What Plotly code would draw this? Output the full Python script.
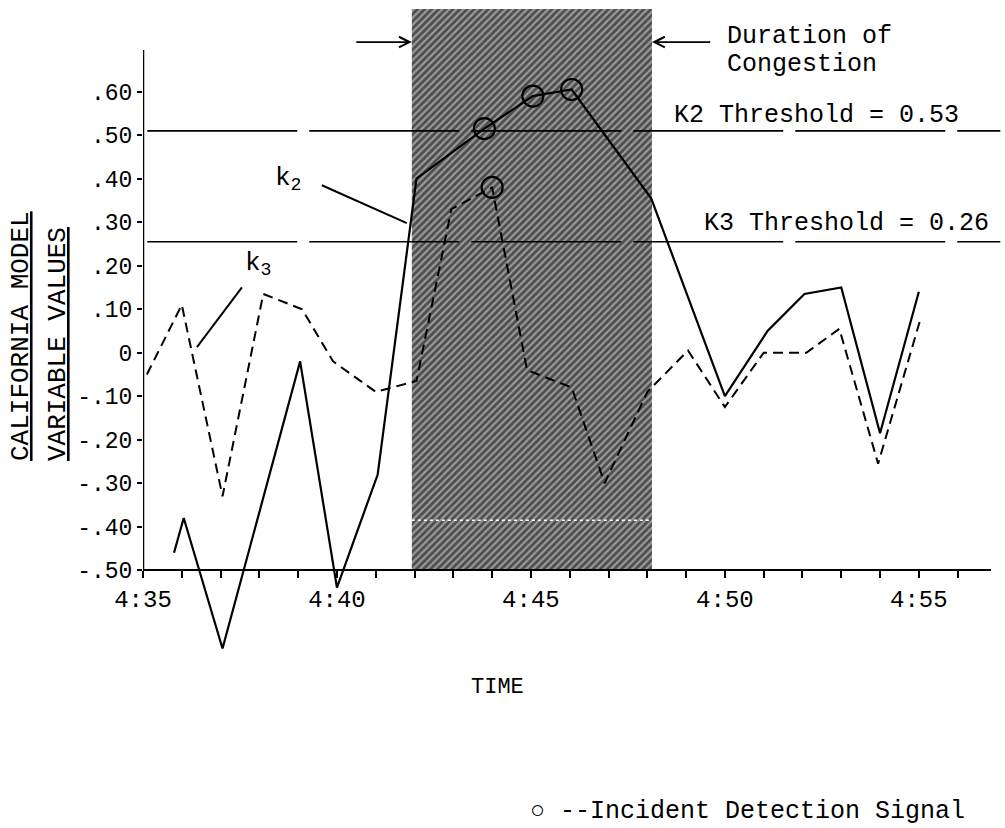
import plotly.graph_objects as go

# ---------------- data (time in minutes after 4:35) ----------------
k2_minutes = [0.8, 1.05, 2.05, 4.05, 5.0, 6.05, 7.05, 8.8, 10.05, 11.05, 13.1, 15.0, 16.1, 17.05, 18.0, 19.0, 20.0]
k2_values = [-0.46, -0.38, -0.68, -0.02, -0.54, -0.28, 0.40, 0.515, 0.59, 0.605, 0.355, -0.10, 0.05, 0.135, 0.15, -0.185, 0.14]

k3_minutes = [0.1, 1.0, 2.05, 3.1, 4.1, 4.9, 6.0, 7.05, 7.95, 9.0, 9.9, 11.05, 11.9, 13.0, 14.05, 15.0, 16.0, 17.1, 17.95, 18.95, 20.05]
k3_values = [-0.05, 0.11, -0.33, 0.135, 0.10, -0.02, -0.09, -0.065, 0.33, 0.38, -0.04, -0.08, -0.30, -0.09, 0.005, -0.125, 0.0, 0.0, 0.055, -0.255, 0.08]

k2_signal_idx = [7, 8, 9]
k3_signal_idx = [9]

k2_threshold = 0.51   # drawn position of "K2 Threshold = 0.53"
k3_threshold = 0.255  # drawn position of "K3 Threshold = 0.26"

congestion_start = 6.93
congestion_end = 13.12

major_ticks = [0, 5, 10, 15, 20]
major_tick_text = ["4:35", "4:40", "4:45", "4:50", "4:55"]
y_tick_vals = [-0.5, -0.4, -0.3, -0.2, -0.1, 0.0, 0.1, 0.2, 0.3, 0.4, 0.5, 0.6]
y_tick_text = ["-.50", "-.40", "-.30", "-.20", "-.10", "0", ".10", ".20", ".30", ".40", ".50", ".60"]

# ---------------- figure ----------------
FONT = "Liberation Mono, DejaVu Sans Mono, monospace"
Y_MIN, Y_MAX = -0.7294, 0.7924
X_MIN, X_MAX = 0, 21.86
AXIS_Y = -0.5
SHADE_TOP = 0.79
ARROW_Y = 0.714

fig = go.Figure()

# congestion shading (hatched)
fig.add_trace(go.Scatter(
    x=[congestion_start, congestion_end, congestion_end, congestion_start, congestion_start],
    y=[AXIS_Y, AXIS_Y, SHADE_TOP, SHADE_TOP, AXIS_Y],
    mode="lines", fill="toself", line=dict(width=0),
    fillcolor="#9a9a9a",
    fillpattern=dict(shape="/", fgcolor="#000000", bgcolor="#9a9a9a", size=5, solidity=0.55),
    hoverinfo="skip", showlegend=False))

fig.add_trace(go.Scatter(x=k2_minutes, y=k2_values, mode="lines",
                         line=dict(color="black", width=2.2), showlegend=False))
fig.add_trace(go.Scatter(x=k3_minutes, y=k3_values, mode="lines",
                         line=dict(color="black", width=2, dash="10px,6px"), showlegend=False))

sig_x = [k2_minutes[i] for i in k2_signal_idx] + [k3_minutes[i] for i in k3_signal_idx]
sig_y = [k2_values[i] for i in k2_signal_idx] + [k3_values[i] for i in k3_signal_idx]
fig.add_trace(go.Scatter(x=sig_x, y=sig_y, mode="markers",
                         marker=dict(symbol="circle-open", size=21, color="black", line=dict(width=2.2)),
                         showlegend=False))

shapes = [
    # y axis line
    dict(type="line", xref="x", yref="y", x0=0, x1=0, y0=AXIS_Y, y1=0.696,
         line=dict(color="black", width=2.5)),
    # threshold lines
    dict(type="line", xref="paper", yref="y", x0=0.005, x1=1.011, y0=k2_threshold, y1=k2_threshold,
         line=dict(color="black", width=1.6, dash="150px,12px")),
    dict(type="line", xref="paper", yref="y", x0=0.005, x1=1.011, y0=k3_threshold, y1=k3_threshold,
         line=dict(color="black", width=1.6, dash="150px,12px")),
    # scan artefact inside shading
    dict(type="line", xref="x", yref="y", x0=congestion_start, x1=congestion_end, y0=-0.385, y1=-0.385,
         line=dict(color="white", width=1.5, dash="dot")),
    # k2 / k3 leader lines
    dict(type="line", xref="x", yref="y", x0=4.61, y0=0.385, x1=6.80, y1=0.298,
         line=dict(color="black", width=2)),
    dict(type="line", xref="x", yref="y", x0=2.55, y0=0.15, x1=1.39, y1=0.013,
         line=dict(color="black", width=2)),
]

annotations = [
    dict(x=3.75, y=0.40, xref="x", yref="y", text="k<sub>2</sub>", showarrow=False,
         font=dict(family=FONT, size=26, color="black")),
    dict(x=2.98, y=0.205, xref="x", yref="y", text="k<sub>3</sub>", showarrow=False,
         font=dict(family=FONT, size=26, color="black")),
    dict(x=15.0, y=0.728, xref="x", yref="y", text="Duration of", showarrow=False, xanchor="left",
         font=dict(family=FONT, size=25, color="black")),
    dict(x=15.0, y=0.663, xref="x", yref="y", text="Congestion", showarrow=False, xanchor="left",
         font=dict(family=FONT, size=25, color="black")),
    dict(x=13.63, y=0.546, xref="x", yref="y", text="K2 Threshold = 0.53", showarrow=False, xanchor="left",
         font=dict(family=FONT, size=25, color="black")),
    dict(x=14.4, y=0.297, xref="x", yref="y", text="K3 Threshold = 0.26", showarrow=False, xanchor="left",
         font=dict(family=FONT, size=25, color="black")),
    # duration arrows
    dict(x=congestion_start, y=ARROW_Y, ax=5.46, ay=ARROW_Y, xref="x", yref="y", axref="x", ayref="y",
         text="", showarrow=True, arrowhead=5, arrowsize=1.3, arrowwidth=1.6, arrowcolor="black"),
    dict(x=congestion_end, y=ARROW_Y, ax=14.66, ay=ARROW_Y, xref="x", yref="y", axref="x", ayref="y",
         text="", showarrow=True, arrowhead=5, arrowsize=1.3, arrowwidth=1.6, arrowcolor="black"),
    # axis titles
    dict(x=-0.1439, y=0.5045, xref="paper", yref="paper", xanchor="center", yanchor="middle",
         text="<u>CALIFORNIA MODEL</u>",
         textangle=-90, showarrow=False, font=dict(family=FONT, size=26, color="black")),
    dict(x=-0.1002, y=0.4924, xref="paper", yref="paper", xanchor="center", yanchor="middle",
         text="<u>VARIABLE VALUES</u>",
         textangle=-90, showarrow=False, font=dict(family=FONT, size=26, color="black")),
    dict(x=0.4186, y=-0.0257, xref="paper", yref="paper", xanchor="center", yanchor="middle",
         text="TIME", showarrow=False,
         font=dict(family=FONT, size=22, color="black")),
    dict(x=0.454, y=-0.2145, xref="paper", yref="paper", xanchor="left", yanchor="middle",
         text="○ --Incident Detection Signal", showarrow=False,
         font=dict(family=FONT, size=25, color="black")),
]

fig.update_layout(
    width=1005, height=828, autosize=False,
    margin=dict(l=143, r=14, t=8, b=158, pad=0),
    paper_bgcolor="white", plot_bgcolor="white",
    shapes=shapes, annotations=annotations,
    xaxis=dict(range=[X_MIN, X_MAX], anchor="free",
               position=(AXIS_Y - Y_MIN) / (Y_MAX - Y_MIN),
               showline=True, linecolor="black", linewidth=2,
               ticks="outside", ticklen=7, tickwidth=1.5, tickcolor="black",
               tickvals=major_ticks, ticktext=major_tick_text,
               minor=dict(dtick=1, tick0=0, ticks="outside", ticklen=7, tickwidth=1.5,
                          tickcolor="black", showgrid=False),
               tickfont=dict(family=FONT, size=24, color="black"),
               showgrid=False, zeroline=False),
    yaxis=dict(range=[Y_MIN, Y_MAX], showline=False,
               ticks="outside", ticklen=5, tickwidth=1.5, tickcolor="black",
               tickvals=y_tick_vals, ticktext=y_tick_text,
               tickfont=dict(family=FONT, size=23, color="black"),
               showgrid=False, zeroline=False),
)

fig.write_html("out.html")
